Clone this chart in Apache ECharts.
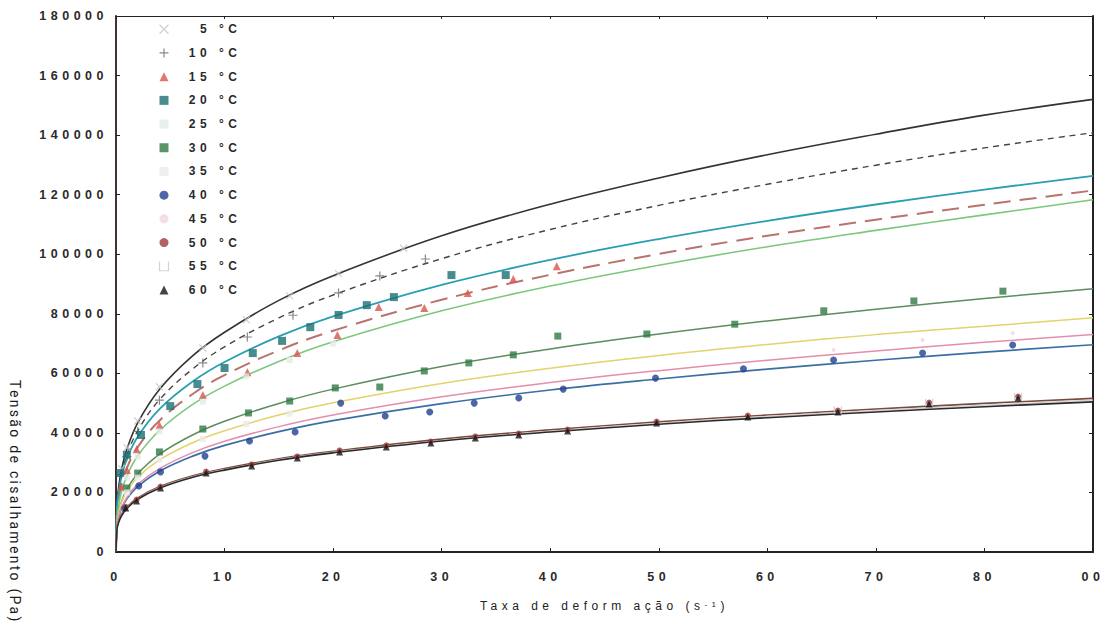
<!DOCTYPE html>
<html>
<head>
<meta charset="utf-8">
<script src="https://cdn.jsdelivr.net/npm/echarts@6/dist/echarts.min.js"></script>
<style>
  html, body { margin: 0; padding: 0; background: #ffffff; }
  #chart { width: 1108px; height: 630px; }
  /* wide tracking of the printed lettering */
  #chart text { letter-spacing: 4.5px; }
  #chart text[style*="Roboto"] { letter-spacing: 2.3px; }
</style>
</head>
<body>
<div id="chart"></div>
<script>
// ---- temperatures (legend order) ----
const temps = ['5 °C', '10 °C', '15 °C', '20 °C', '25 °C', '30 °C',
               '35 °C', '40 °C', '45 °C', '50 °C', '55 °C', '60 °C'];

// ---- axis tick labels ----
const xTickLabels = ['0', '10', '20', '30', '40', '50', '60', '70', '80', '00'];
const yTickLabels = ['0', '20000', '40000', '60000', '80000', '100000',
                     '120000', '140000', '160000', '180000'];

// ---- fitted flow curves: shear rate (s-1) and shear stress (Pa) ----
const curveRate = [0, 0.1, 0.25, 0.5, 1, 2, 4, 7, 10, 15, 20, 30, 40, 50, 60, 70, 80, 90];
const fit5  = [0, 16200, 21900, 27500, 34500, 43400, 54600, 65700, 73800, 84500, 92800, 106200, 116800, 125600, 133400, 140300, 146700, 152000];
const fit10 = [0, 15300, 20700, 25900, 32500, 40700, 51100, 61300, 68900, 78600, 86300, 98500, 108300, 116400, 123500, 129900, 135700, 140800];
const fit15 = [0, 13300, 18000, 22500, 28200, 35200, 44100, 52900, 59400, 67700, 74300, 84700, 93100, 100100, 106200, 111600, 116600, 121400];
const fit20 = [0, 15300, 20300, 25200, 31300, 38700, 48000, 57100, 63800, 72400, 79100, 89700, 98100, 105100, 111200, 116700, 121700, 126300];
const fit25 = [0, 11600, 15900, 20100, 25500, 32300, 40800, 49400, 55700, 64000, 70600, 81000, 89300, 96300, 102500, 108000, 113200, 118300];
const fit30 = [0, 10200, 13600, 16900, 21100, 26300, 32800, 39200, 43900, 49900, 54700, 62300, 68200, 73200, 77600, 81500, 85100, 88400];
const fit35 = [0, 10200, 13500, 16600, 20400, 25100, 30900, 36600, 40700, 46000, 50100, 56600, 61700, 66000, 69700, 73000, 75800, 78700];
const fit40 = [0, 8900, 11700, 14500, 17900, 22000, 27100, 32100, 35800, 40400, 44100, 49800, 54400, 58100, 61400, 64400, 67100, 69600];
const fit45 = [0, 9000, 12000, 14800, 18300, 22700, 28000, 33300, 37200, 42100, 46000, 52100, 56900, 60900, 64400, 67500, 70400, 73000];
const fit50 = [0, 8200, 10500, 12600, 15100, 18200, 21900, 25500, 28000, 31300, 33800, 37900, 41000, 43700, 46000, 48000, 49900, 51600];
const fit55 = [0, 8000, 10200, 12300, 14800, 17900, 21600, 25200, 27700, 31000, 33500, 37500, 40600, 43300, 45500, 47500, 49300, 51000];
const fit60 = [0, 7800, 10000, 12100, 14600, 17700, 21400, 25000, 27500, 30800, 33300, 37300, 40300, 42900, 45100, 47000, 48800, 50400];

// ---- measured points: shear rate (s-1) and shear stress (Pa) ----
const rate5    = [0.5, 1, 2, 4, 8, 12, 16, 20.5, 26.5];
const stress5  = [28000, 35000, 44000, 55500, 68500, 78000, 86000, 93500, 102000];
const rate10   = [0.5, 1, 2, 4, 8, 12.1, 16.3, 20.5, 24.3, 28.5];
const stress10 = [26000, 32000, 40500, 51000, 63500, 72200, 79500, 87000, 92700, 98400];
const rate15   = [0.5, 1, 1.9, 4, 8, 12.1, 16.7, 20.4, 24.2, 28.4, 32.4, 36.6, 40.6];
const stress15 = [22000, 27500, 34500, 42600, 52700, 60400, 66800, 72900, 82300, 81900, 87000, 91700, 96000];
const rate20   = [0.4, 1, 2.3, 5, 7.5, 10, 12.6, 15.3, 17.9, 20.5, 23.1, 25.6, 30.9, 35.9];
const stress20 = [26500, 32600, 39300, 49000, 56400, 61800, 66800, 70900, 75500, 79600, 82900, 85600, 93000, 93000];
const rate25   = [1, 2, 4, 8, 12, 16, 20];
const stress25 = [25000, 32000, 40500, 50500, 59000, 64500, 70000];
const rate30   = [1, 2, 4, 8, 12.2, 16, 20.2, 24.3, 28.4, 32.5, 36.6, 40.7, 48.9, 57, 65.2, 73.5, 81.7];
const stress30 = [21500, 26500, 33600, 41300, 46700, 50700, 55100, 55400, 60800, 63500, 66200, 72500, 73200, 76500, 81000, 84300, 87600];
const rate35   = [1, 2, 4, 8, 12, 16];
const stress35 = [20000, 25000, 31000, 38000, 43000, 46500];
const rate40   = [0.8, 2.1, 4.1, 8.2, 12.3, 16.5, 20.7, 24.8, 28.9, 33, 37.1, 41.2, 49.7, 57.8, 66.1, 74.3, 82.6];
const stress40 = [14800, 22200, 26900, 32200, 37300, 40300, 50000, 45700, 47000, 50000, 51700, 54700, 58400, 61500, 64500, 66800, 69500];
const rate45   = [66.1, 74.3, 82.6];
const stress45 = [67800, 71200, 73500];
const rate50   = [0.9, 1.9, 4.1, 8.3, 12.5, 16.7, 20.6, 24.9, 29, 33.1, 37.1, 41.6, 49.8, 58.2, 66.5, 74.9, 83.1];
const stress50 = [15200, 17600, 22000, 27000, 29400, 32100, 34100, 35800, 37100, 38800, 39800, 41100, 43800, 45800, 47500, 50200, 52200];
const rate55   = [66.5, 74.9, 83.1];
const stress55 = [47800, 50300, 52300];
const rate60   = [0.9, 1.9, 4.1, 8.3, 12.5, 16.7, 20.6, 24.9, 29, 33.1, 37.1, 41.6, 49.8, 58.2, 66.5, 74.9, 83.1];
const stress60 = [14800, 17100, 21500, 26500, 28900, 31600, 33600, 35300, 36600, 38300, 39300, 40600, 43300, 45300, 47000, 49700, 51700];

// ---- styling per temperature ----
const CROSS = 'path://M0,0L10,10M10,0L0,10';
const PLUS = 'path://M5,0L5,10M0,5L10,5';
const OPEN_SQ = 'path://M0,0L0,10L10,10L10,0';

const fits = [fit5, fit10, fit15, fit20, fit25, fit30, fit35, fit40, fit45, fit50, fit55, fit60];
const rates = [rate5, rate10, rate15, rate20, rate25, rate30, rate35, rate40, rate45, rate50, rate55, rate60];
const stresses = [stress5, stress10, stress15, stress20, stress25, stress30, stress35, stress40, stress45, stress50, stress55, stress60];

const markerStyle = [
  { symbol: CROSS,      size: 7, item: { color: 'none', borderColor: '#c4c4c4', borderWidth: 1.2 } },
  { symbol: PLUS,       size: 9, item: { color: 'none', borderColor: '#6a6a6a', borderWidth: 1.2 } },
  { symbol: 'triangle', size: 8, item: { color: '#d9534f' } },
  { symbol: 'rect',     size: 8, item: { color: '#1b6f73' } },
  { symbol: 'rect',     size: 6, item: { color: '#e4ebe4' } },
  { symbol: 'rect',     size: 7, item: { color: '#317a44' } },
  { symbol: 'rect',     size: 6, item: { color: '#ebebeb' } },
  { symbol: 'circle',   size: 7, item: { color: '#21408f' } },
  { symbol: 'circle',   size: 4, item: { color: '#f2d4df' } },
  { symbol: 'circle',   size: 6, item: { color: '#9e3c3c' } },
  { symbol: OPEN_SQ,    size: 7, item: { color: 'none', borderColor: '#c8c8c8', borderWidth: 1.2 } },
  { symbol: 'triangle', size: 7, item: { color: '#141414' } }
];

const curveStyle = [
  { color: '#333333', width: 1.6, type: 'solid' },
  { color: '#444444', width: 1.4, type: [6, 5] },
  { color: '#b9736c', width: 2.0, type: [17, 9] },
  { color: '#2a9fb2', width: 1.8, type: 'solid' },
  { color: '#7cc77e', width: 1.6, type: 'solid' },
  { color: '#5d8c5f', width: 1.5, type: 'solid' },
  { color: '#e2d36c', width: 1.5, type: 'solid' },
  { color: '#3b6ea6', width: 1.7, type: 'solid' },
  { color: '#e38eac', width: 1.5, type: 'solid' },
  { color: '#7a4a3c', width: 1.6, type: 'solid' },
  { color: '#d2d2d2', width: 1.3, type: 'solid' },
  { color: '#2a2a2a', width: 1.6, type: 'solid' }
];

const FONT = 'Liberation Sans';
const LETTER = 4.5;

// text widths include the wide tracking used for the lettering
if (echarts.setPlatformAPI) {
  const mctx = document.createElement('canvas').getContext('2d');
  echarts.setPlatformAPI({
    measureText(text, font) {
      mctx.font = font || '12px sans-serif';
      const s = String(text);
      return { width: mctx.measureText(s).width + LETTER * s.length };
    }
  });
}

const pairs = (xs, ys) => xs.map((x, i) => [x, ys[i]]);

const series = [];
temps.forEach((t, i) => {
  const cs = curveStyle[i];
  series.push({
    type: 'line',
    name: 'ajuste ' + t,
    data: pairs(curveRate, fits[i]),
    symbol: 'none',
    showSymbol: false,
    smooth: 0.4,
    silent: true,
    z: 2,
    lineStyle: { color: cs.color, width: cs.width, type: cs.type }
  });
});
temps.forEach((t, i) => {
  const ms = markerStyle[i];
  series.push({
    type: 'scatter',
    name: t,
    data: pairs(rates[i], stresses[i]),
    symbol: ms.symbol,
    symbolSize: ms.size,
    itemStyle: ms.item,
    silent: true,
    z: 3 + i * 0.01
  });
});

const tickColor = '#222222';
const labelStyle = { fontFamily: FONT, fontSize: 12.5, fontWeight: 'bold', color: '#2a2a2a' };

const option = {
  backgroundColor: '#ffffff',
  animation: false,
  grid: { left: 116, right: 15, top: 16, bottom: 78, containLabel: false },
  legend: {
    orient: 'vertical',
    left: 152,
    top: 16,
    itemWidth: 9,
    itemHeight: 9,
    itemGap: 7.2,
    selectedMode: false,
    data: temps.map((t, i) => ({
      name: t,
      icon: markerStyle[i].symbol,
      itemStyle: markerStyle[i].item
    })),
    formatter: n => '{r|' + n + '}',
    textStyle: {
      fontFamily: FONT, fontSize: 12, fontWeight: 'bold', color: '#2a2a2a',
      rich: { r: { width: 68, align: 'right', lineHeight: 14, fontFamily: FONT, fontSize: 12, fontWeight: 'bold', color: '#2a2a2a' } }
    }
  },
  xAxis: [
    {
      type: 'value', min: 0, max: 90, interval: 10, position: 'bottom',
      axisLine: { show: true, onZero: false, lineStyle: { color: tickColor, width: 1.8 } },
      axisTick: { show: true, inside: true, length: 4, lineStyle: { color: tickColor, width: 1 } },
      splitLine: { show: false },
      axisLabel: Object.assign({ margin: 16, formatter: v => xTickLabels[Math.round(v / 10)] }, labelStyle),
      name: 'Taxa de deform ação (s{sup|-1})',
      nameLocation: 'middle',
      nameGap: 46,
      nameTextStyle: {
        fontFamily: FONT, fontSize: 12, color: '#222222', lineHeight: 16,
        rich: { sup: { fontFamily: FONT, fontSize: 8, color: '#222222', verticalAlign: 'top', lineHeight: 8 } }
      }
    },
    {
      type: 'value', min: 0, max: 90, interval: 10, position: 'top',
      axisLine: { show: true, onZero: false, lineStyle: { color: tickColor, width: 1.2 } },
      axisTick: { show: true, inside: true, length: 3, lineStyle: { color: tickColor, width: 1 } },
      splitLine: { show: false },
      axisLabel: { show: false }
    }
  ],
  yAxis: [
    {
      type: 'value', min: 0, max: 180000, interval: 20000, position: 'left',
      axisLine: { show: true, onZero: false, lineStyle: { color: '#2a1c1c', width: 1.8 } },
      axisTick: { show: true, inside: true, length: 4, lineStyle: { color: tickColor, width: 1 } },
      splitLine: { show: false },
      axisLabel: Object.assign({ margin: 8, formatter: v => yTickLabels[Math.round(v / 20000)] }, labelStyle)
    },
    {
      type: 'value', min: 0, max: 180000, interval: 20000, position: 'right',
      axisLine: { show: true, onZero: false, lineStyle: { color: tickColor, width: 2 } },
      axisTick: { show: true, inside: true, length: 4, lineStyle: { color: tickColor, width: 1 } },
      splitLine: { show: false },
      axisLabel: { show: false }
    }
  ],
  graphic: [
    {
      type: 'text',
      x: 15,
      y: 380,
      rotation: -Math.PI / 2,
      silent: true,
      style: {
        text: 'Tensão de cisalhamento (Pa)',
        font: '14px Roboto',
        fill: '#1a1a1a',
        textAlign: 'left',
        textVerticalAlign: 'middle'
      }
    }
  ],
  series: series
};

const chart = echarts.init(document.getElementById('chart'), null, { renderer: 'svg' });
chart.setOption(option);
</script>
</body>
</html>
